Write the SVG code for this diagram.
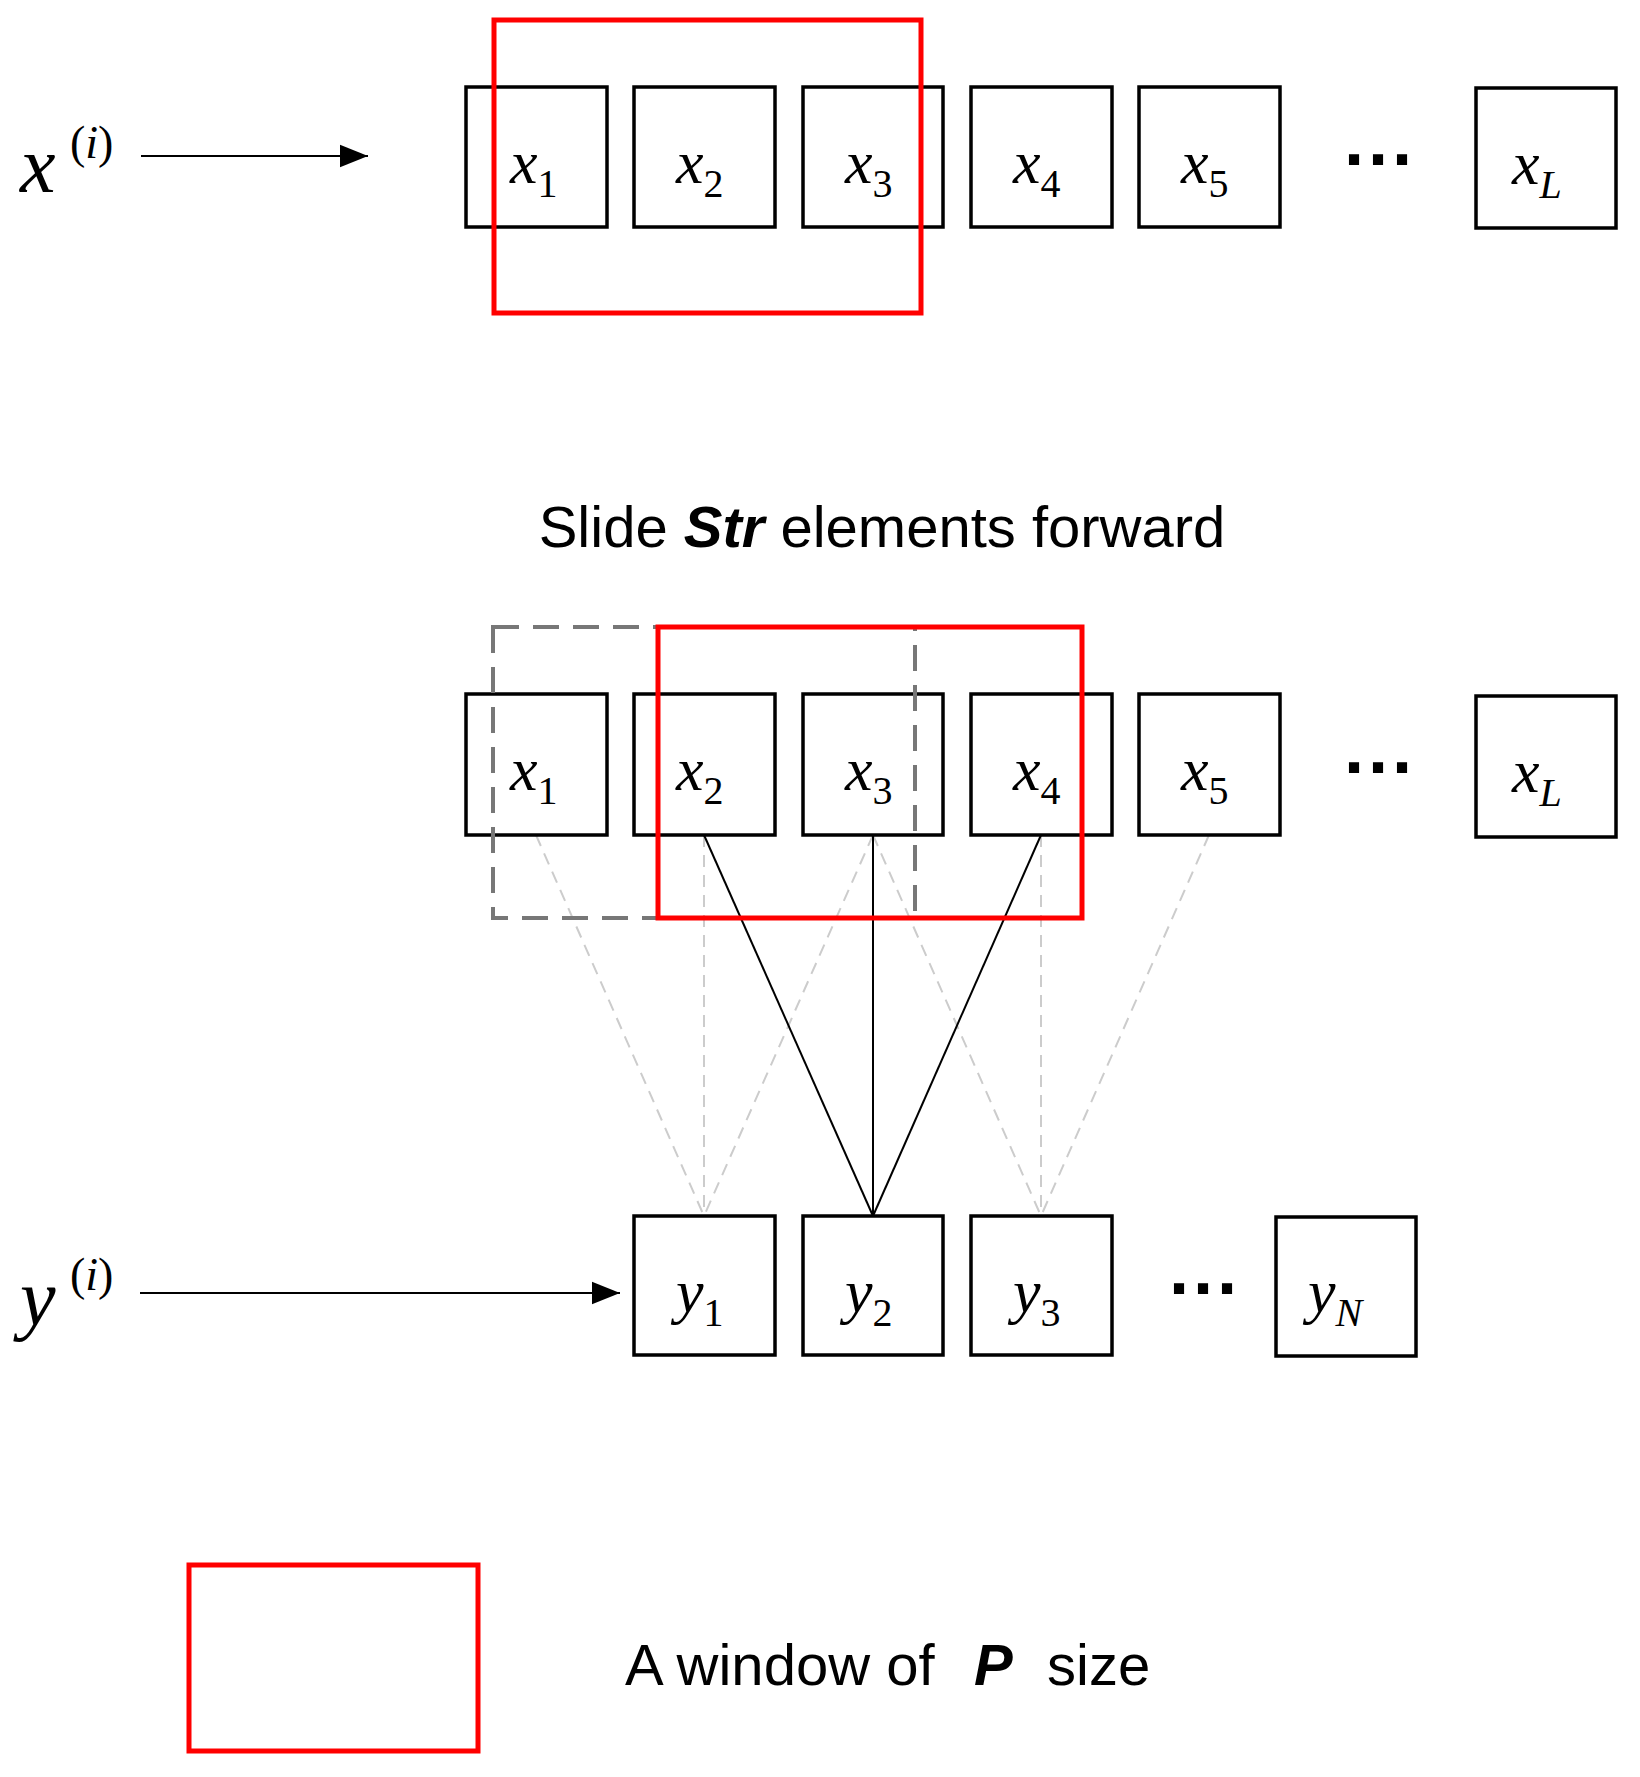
<svg xmlns="http://www.w3.org/2000/svg" width="1640" height="1777" viewBox="0 0 1640 1777">
<style>
.box{fill:#fff;stroke:#000;stroke-width:3.5}
.win{fill:none;stroke:#f00;stroke-width:5}
.m{font-family:"Liberation Serif",serif;font-style:italic;font-size:62px}
.s{font-family:"Liberation Serif",serif;font-size:40px;font-style:normal}
.si{font-family:"Liberation Serif",serif;font-size:40px;font-style:italic}
.t{font-family:"Liberation Sans",Arial,sans-serif;font-size:58px}
.dots{font-family:"Liberation Sans",sans-serif;font-size:72px;font-weight:bold}
.g{stroke:#ccc;stroke-width:2;stroke-dasharray:12,8}
.k{stroke:#000;stroke-width:2}
</style>
<defs><marker id="a" viewBox="0 0 10 10" refX="10" refY="5" markerWidth="28" markerHeight="28" markerUnits="userSpaceOnUse" orient="auto"><path d="M0,1 L10,5 L0,9 z" fill="#000"/></marker></defs>

<g id="labels">
<text x="20" y="192" class="m" style="font-size:80px">x</text>
<text x="70" y="158" class="s" style="font-size:46px">(<tspan font-style="italic">i</tspan>)</text>
<text x="20" y="1325" class="m" style="font-size:80px">y</text>
<text x="70" y="1290" class="s" style="font-size:46px">(<tspan font-style="italic">i</tspan>)</text>
<text x="882" y="547" class="t" text-anchor="middle">Slide <tspan font-weight="bold" font-style="italic">Str</tspan> elements forward</text>
<text x="625" y="1685" class="t">A window of</text>
<text x="974" y="1685" class="t" font-weight="bold" font-style="italic">P</text>
<text x="1047" y="1685" class="t">size</text>
<text x="1380" y="184" class="dots" text-anchor="middle">···</text>
<text x="1380" y="792" class="dots" text-anchor="middle">···</text>
<text x="1205" y="1313" class="dots" text-anchor="middle">···</text>
</g>

<g id="connectors">
<line x1="141" y1="156" x2="368" y2="156" class="k" marker-end="url(#a)"/>
<line x1="140" y1="1293" x2="620" y2="1293" class="k" marker-end="url(#a)"/>
<line x1="536" y1="835" x2="704" y2="1216" class="g"/>
<line x1="704" y1="835" x2="704" y2="1216" class="g"/>
<line x1="873" y1="835" x2="704" y2="1216" class="g"/>
<line x1="873" y1="835" x2="1041" y2="1216" class="g"/>
<line x1="1041" y1="835" x2="1041" y2="1216" class="g"/>
<line x1="1209" y1="835" x2="1041" y2="1216" class="g"/>
<line x1="704" y1="835" x2="873" y2="1216" class="k"/>
<line x1="873" y1="835" x2="873" y2="1216" class="k"/>
<line x1="1041" y1="835" x2="873" y2="1216" class="k"/>
</g>

<g id="top-row">
<g id="t1"><rect x="466" y="87" width="141" height="140" class="box"/><text x="510" y="183" class="m">x<tspan class="s" dy="14">1</tspan></text></g>
<g id="t2"><rect x="634" y="87" width="141" height="140" class="box"/><text x="676" y="183" class="m">x<tspan class="s" dy="14">2</tspan></text></g>
<g id="t3"><rect x="803" y="87" width="140" height="140" class="box"/><text x="845" y="183" class="m">x<tspan class="s" dy="14">3</tspan></text></g>
<g id="t4"><rect x="971" y="87" width="141" height="140" class="box"/><text x="1013" y="183" class="m">x<tspan class="s" dy="14">4</tspan></text></g>
<g id="t5"><rect x="1139" y="87" width="141" height="140" class="box"/><text x="1181" y="183" class="m">x<tspan class="s" dy="14">5</tspan></text></g>
<g id="tL"><rect x="1476" y="88" width="140" height="140" class="box"/><text x="1512" y="184" class="m">x<tspan class="si" dy="14">L</tspan></text></g>
</g>
<rect id="win-top" x="494" y="20" width="427" height="293" class="win"/>

<g id="mid-row">
<g id="m1"><rect x="466" y="694" width="141" height="141" class="box"/><text x="510" y="790" class="m">x<tspan class="s" dy="14">1</tspan></text></g>
<g id="m2"><rect x="634" y="694" width="141" height="141" class="box"/><text x="676" y="790" class="m">x<tspan class="s" dy="14">2</tspan></text></g>
<g id="m3"><rect x="803" y="694" width="140" height="141" class="box"/><text x="845" y="790" class="m">x<tspan class="s" dy="14">3</tspan></text></g>
<g id="m4"><rect x="971" y="694" width="141" height="141" class="box"/><text x="1013" y="790" class="m">x<tspan class="s" dy="14">4</tspan></text></g>
<g id="m5"><rect x="1139" y="694" width="141" height="141" class="box"/><text x="1181" y="790" class="m">x<tspan class="s" dy="14">5</tspan></text></g>
<g id="mL"><rect x="1476" y="696" width="140" height="141" class="box"/><text x="1512" y="792" class="m">x<tspan class="si" dy="14">L</tspan></text></g>
</g>
<rect id="win-gray" x="493" y="627" width="422" height="291" fill="none" stroke="#777" stroke-width="4" stroke-dasharray="26,14"/>
<rect id="win-mid" x="658" y="627" width="424" height="291" class="win"/>

<g id="y-row">
<g id="y1"><rect x="634" y="1216" width="141" height="139" class="box"/><text x="676" y="1312" class="m">y<tspan class="s" dy="14">1</tspan></text></g>
<g id="y2"><rect x="803" y="1216" width="140" height="139" class="box"/><text x="845" y="1312" class="m">y<tspan class="s" dy="14">2</tspan></text></g>
<g id="y3"><rect x="971" y="1216" width="141" height="139" class="box"/><text x="1013" y="1312" class="m">y<tspan class="s" dy="14">3</tspan></text></g>
<g id="yN"><rect x="1276" y="1217" width="140" height="139" class="box"/><text x="1308" y="1312" class="m">y<tspan class="si" dy="14">N</tspan></text></g>
</g>

<rect id="legend" x="189" y="1565" width="289" height="186" class="win"/>
</svg>
